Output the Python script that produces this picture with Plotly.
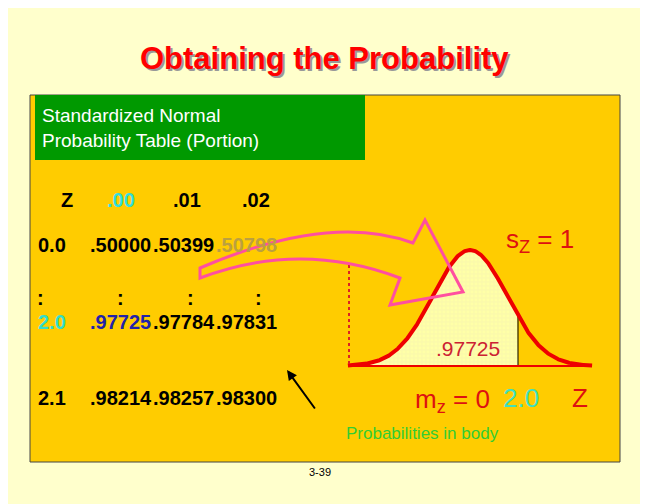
import numpy as np
import plotly.graph_objects as go

col_headers = ["Z", ".00", ".01", ".02"]
row_labels = ["0.0", ":", "2.0", "2.1"]
row_values = [[".50000", ".50399", ".50798"],
              [":", ":", ":"],
              [".97725", ".97784", ".97831"],
              [".98214", ".98257", ".98300"]]
z_cut = 2.0
prob_text = ".97725"

mu_px, sig_px, base_y, h_scale = 470, 37, 366, 116/0.3989
cut_px = 518
z = np.linspace(-3.3, 3.3, 400)
pdf = np.exp(-z**2/2)/np.sqrt(2*np.pi)
xs = mu_px + z*sig_px
ys = base_y - pdf*h_scale
zc = (cut_px - mu_px)/sig_px
zs = z[z <= zc]
xs_s = mu_px + zs*sig_px
ys_s = base_y - (np.exp(-zs**2/2)/np.sqrt(2*np.pi))*h_scale
y_cut = base_y - np.exp(-zc**2/2)/np.sqrt(2*np.pi)*h_scale

fig = go.Figure()
fig.add_trace(go.Scatter(x=list(xs_s)+[cut_px, xs_s[0]], y=list(ys_s)+[base_y, base_y],
                         fill="toself", fillcolor="#FFFFA8", line=dict(width=0), mode="lines",
                         fillpattern=dict(shape="+", fgcolor="#F0EBB0", bgcolor="#FFFFA8", size=4, solidity=0.3)))
fig.add_trace(go.Scatter(x=[cut_px]*2, y=[base_y, y_cut],
                         mode="lines", line=dict(color="black", width=1)))
fig.add_trace(go.Scatter(x=xs, y=ys, mode="lines", line=dict(color="#EE0000", width=4)))

shapes = [
    dict(type="rect", x0=30, y0=95, x1=620, y1=462, fillcolor="#FFCC00", line=dict(color="#444", width=1), layer="below"),
    dict(type="rect", x0=35, y0=95, x1=365, y1=160, fillcolor="#009900", line=dict(width=0), layer="below"),
    dict(type="line", x0=349, y0=265, x1=349, y1=base_y, line=dict(color="#DD2222", width=2, dash="dot")),
    dict(type="line", x0=349, y0=base_y, x1=590, y1=base_y, line=dict(color="#EE0000", width=2)),
    dict(type="path", path="M 200,268 Q 330,212 413,243 L 425,220 L 463,292 L 390,305 L 400,278 Q 300,240 200,278 Z",
         line=dict(color="#FF4FA0", width=3), fillcolor="rgba(0,0,0,0)"),
]

ann = []
def t(x, y, s, size=18, color="black", bold=False, anchor="center"):
    ann.append(dict(x=x, y=y, text=f"<b>{s}</b>" if bold else s, showarrow=False, xanchor=anchor,
                    font=dict(family="Liberation Sans, Arial", size=size, color=color)))

t(326, 60, "Obtaining the Probability", 31, "#999999", True)
t(324, 58, "Obtaining the Probability", 31, "#FF0000", True)
ann.append(dict(x=40, y=128, text="Standardized Normal<br>Probability Table (Portion)", showarrow=False,
                xanchor="left", align="left", font=dict(family="Liberation Sans, Arial", size=19, color="white")))
hx = [67, 121, 187, 256]
hcol = ["black", "#33DDDD", "black", "black"]
for x, s, c in zip(hx, col_headers, hcol):
    t(x, 200, s, 20, c, True)
ry = [245, 298, 322, 398]
for i, (lab, vals) in enumerate(zip(row_labels, row_values)):
    y = ry[i]
    if lab == ":":
        for x in [40, 120, 190, 258]:
            t(x, y, ":", 20, "black", True)
        continue
    t(52, y, lab, 20, "#33DDCC" if lab == "2.0" else "black", True)
    for j, v in enumerate(vals):
        c = "black"
        if lab == "2.0" and j == 0: c = "#2222AA"
        if lab == "0.0" and j == 2: c = "#BBA040"
        t(88 + j*63, y, v, 20, c, True, "left")
ann.append(dict(x=287, y=370, ax=316, ay=410, axref="x", ayref="y", showarrow=True, arrowhead=2,
                arrowsize=1, arrowwidth=2, arrowcolor="black", text=""))
ann.append(dict(x=540, y=240, text="s<sub>Z</sub> = 1", showarrow=False,
                font=dict(family="Liberation Sans, Arial", size=26, color="#DD1111")))
t(468, 348, prob_text, 21, "#CC2233")
ann.append(dict(x=452, y=400, text="m<sub>z</sub> = 0", showarrow=False,
                font=dict(family="Liberation Sans, Arial", size=26, color="#DD1111")))
t(521, 398, "2.0", 26, "#40E0C0")
t(580, 398, "Z", 26, "#DD1111")
t(422, 433, "Probabilities in body", 17, "#33CC33")
t(320, 472, "3-39", 11, "black")

fig.update_layout(width=648, height=504, margin=dict(l=0, r=0, t=0, b=0),
                  paper_bgcolor="#FFFFCC", plot_bgcolor="#FFFFCC", showlegend=False,
                  xaxis=dict(range=[8, 656], visible=False, fixedrange=True),
                  yaxis=dict(range=[512, 8], visible=False, fixedrange=True),
                  shapes=shapes, annotations=ann)
fig.write_html("out.html")
